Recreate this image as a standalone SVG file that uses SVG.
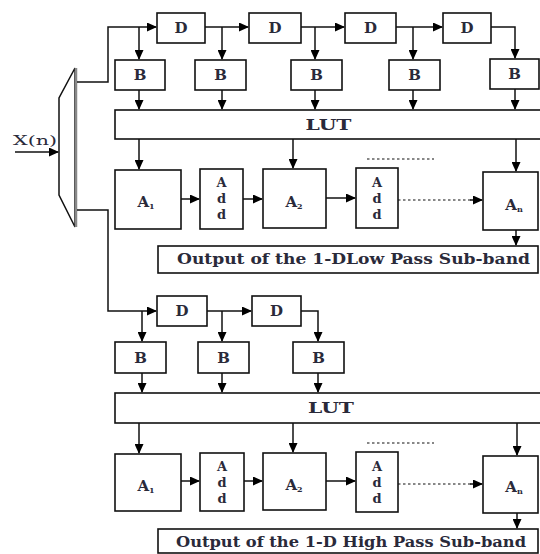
<svg xmlns="http://www.w3.org/2000/svg" width="540" height="554" viewBox="0 0 540 554">
<defs>
<marker id="ah" markerWidth="10" markerHeight="9" refX="9" refY="4.5" orient="auto" markerUnits="userSpaceOnUse">
<path d="M0,0 L10,4.5 L0,9 Z" fill="#000"/>
</marker>
<style>
.box{fill:#fff;stroke:#111;stroke-width:1.6}
.ln{fill:none;stroke:#111;stroke-width:1.5}
.dot{fill:none;stroke:#111;stroke-width:1.2;stroke-dasharray:2.5 2.5}
.t{font-family:"DejaVu Serif","Liberation Serif",serif;fill:#2a2a3a;font-weight:bold;text-anchor:middle}
.s14{font-size:15px}
.s13{font-size:13px}
.add{font-size:13px}
.sub{font-size:8px}
.out{font-family:"DejaVu Serif","Liberation Serif",serif;fill:#2a2a3a;font-size:14px;font-weight:bold}
</style>
</defs>
<rect width="540" height="554" fill="#fff"/>

<g id="splitter">
<polygon points="75,68 59,98 59,195 75,227" fill="#fff" stroke="#111" stroke-width="1.5"/>
<line x1="76" y1="68" x2="76" y2="227" stroke="#888" stroke-width="2.5"/>
</g>
<g id="xn"><text class="t s13" x="35" y="145" textLength="44" lengthAdjust="spacingAndGlyphs" style="font-weight:normal">X(n)</text></g>

<g id="connectors">
<line class="ln" x1="15" y1="152" x2="58" y2="152" marker-end="url(#ah)"/>
<!-- top branch -->
<polyline class="ln" points="77,82 108,82 108,27 156,27" marker-end="url(#ah)"/>
<line class="ln" x1="139" y1="27" x2="139" y2="59" marker-end="url(#ah)"/>
<line class="ln" x1="205" y1="27" x2="248" y2="27" marker-end="url(#ah)"/>
<line class="ln" x1="222" y1="27" x2="222" y2="59" marker-end="url(#ah)"/>
<line class="ln" x1="301" y1="27" x2="344" y2="27" marker-end="url(#ah)"/>
<line class="ln" x1="315" y1="27" x2="315" y2="59" marker-end="url(#ah)"/>
<line class="ln" x1="396" y1="27" x2="442" y2="27" marker-end="url(#ah)"/>
<line class="ln" x1="413" y1="27" x2="413" y2="59" marker-end="url(#ah)"/>
<polyline class="ln" points="491,27 515,27 515,58" marker-end="url(#ah)"/>
<line class="ln" x1="139" y1="90" x2="139" y2="109" marker-end="url(#ah)"/>
<line class="ln" x1="222" y1="90" x2="222" y2="109" marker-end="url(#ah)"/>
<line class="ln" x1="315" y1="90" x2="315" y2="109" marker-end="url(#ah)"/>
<line class="ln" x1="413" y1="90" x2="413" y2="109" marker-end="url(#ah)"/>
<line class="ln" x1="515" y1="89" x2="515" y2="109" marker-end="url(#ah)"/>
<line class="ln" x1="139" y1="139" x2="139" y2="169" marker-end="url(#ah)"/>
<line class="ln" x1="293" y1="139" x2="293" y2="168" marker-end="url(#ah)"/>
<line class="ln" x1="516" y1="139" x2="516" y2="171" marker-end="url(#ah)"/>
<line class="ln" x1="181" y1="199" x2="199" y2="199" marker-end="url(#ah)"/>
<line class="ln" x1="243" y1="199" x2="262" y2="199" marker-end="url(#ah)"/>
<line class="ln" x1="326" y1="198" x2="355" y2="198" marker-end="url(#ah)"/>
<line class="dot" x1="398" y1="200" x2="474" y2="200"/>
<line class="ln" x1="470" y1="200" x2="482" y2="200" marker-end="url(#ah)"/>
<line class="dot" x1="367" y1="159" x2="434" y2="159"/>
<line class="ln" x1="516" y1="230" x2="516" y2="245" marker-end="url(#ah)"/>
<!-- bottom branch -->
<polyline class="ln" points="77,210 108,210 108,311 156,311" marker-end="url(#ah)"/>
<line class="ln" x1="142" y1="311" x2="142" y2="341" marker-end="url(#ah)"/>
<line class="ln" x1="207" y1="311" x2="251" y2="311" marker-end="url(#ah)"/>
<line class="ln" x1="222" y1="311" x2="222" y2="341" marker-end="url(#ah)"/>
<polyline class="ln" points="301,311 318,311 318,341" marker-end="url(#ah)"/>
<line class="ln" x1="142" y1="373" x2="142" y2="392" marker-end="url(#ah)"/>
<line class="ln" x1="222" y1="373" x2="222" y2="392" marker-end="url(#ah)"/>
<line class="ln" x1="318" y1="373" x2="318" y2="392" marker-end="url(#ah)"/>
<line class="ln" x1="139" y1="423" x2="139" y2="453" marker-end="url(#ah)"/>
<line class="ln" x1="293" y1="423" x2="293" y2="452" marker-end="url(#ah)"/>
<line class="ln" x1="517" y1="423" x2="517" y2="455" marker-end="url(#ah)"/>
<line class="ln" x1="181" y1="481" x2="199" y2="481" marker-end="url(#ah)"/>
<line class="ln" x1="244" y1="481" x2="262" y2="481" marker-end="url(#ah)"/>
<line class="ln" x1="326" y1="481" x2="355" y2="481" marker-end="url(#ah)"/>
<line class="dot" x1="398" y1="484" x2="474" y2="484"/>
<line class="ln" x1="470" y1="484" x2="482" y2="484" marker-end="url(#ah)"/>
<line class="dot" x1="367" y1="443" x2="434" y2="443"/>
<line class="ln" x1="517" y1="513" x2="517" y2="528" marker-end="url(#ah)"/>
</g>

<!-- top section nodes -->
<g id="tD1"><rect class="box" x="157" y="13" width="48" height="30"/><text class="t s14" x="181" y="33">D</text></g>
<g id="tD2"><rect class="box" x="249" y="13" width="52" height="30"/><text class="t s14" x="275" y="33">D</text></g>
<g id="tD3"><rect class="box" x="345" y="13" width="51" height="30"/><text class="t s14" x="370.5" y="33">D</text></g>
<g id="tD4"><rect class="box" x="443" y="13" width="48" height="30"/><text class="t s14" x="467" y="33">D</text></g>
<g id="tB1"><rect class="box" x="115" y="60" width="50" height="30"/><text class="t s14" x="140" y="80">B</text></g>
<g id="tB2"><rect class="box" x="195" y="60" width="51" height="30"/><text class="t s14" x="220.5" y="80">B</text></g>
<g id="tB3"><rect class="box" x="291" y="60" width="51" height="30"/><text class="t s14" x="316.5" y="80">B</text></g>
<g id="tB4"><rect class="box" x="389" y="60" width="51" height="30"/><text class="t s14" x="414.5" y="80">B</text></g>
<g id="tB5"><rect class="box" x="490" y="59" width="49" height="30"/><text class="t s14" x="514.5" y="79">B</text></g>
<g id="tLUT"><rect class="box" x="115" y="110" width="440" height="29"/><text class="t s14" x="328.5" y="130" textLength="46" lengthAdjust="spacingAndGlyphs">LUT</text></g>
<g id="tA1"><rect class="box" x="115" y="170" width="66" height="59"/><text class="t s14" x="146" y="207">A<tspan class="sub" dy="2">1</tspan></text></g>
<g id="tAdd1"><rect class="box" x="200" y="169" width="43" height="60"/><text class="t add" x="221.5" y="187">A</text><text class="t add" x="221.5" y="203">d</text><text class="t add" x="221.5" y="219">d</text></g>
<g id="tA2"><rect class="box" x="263" y="169" width="63" height="59"/><text class="t s14" x="294" y="207">A<tspan class="sub" dy="2">2</tspan></text></g>
<g id="tAdd2"><rect class="box" x="356" y="168" width="42" height="60"/><text class="t add" x="377" y="187">A</text><text class="t add" x="377" y="203">d</text><text class="t add" x="377" y="219">d</text></g>
<g id="tAn"><rect class="box" x="483" y="172" width="55" height="58"/><text class="t s14" x="514" y="210">A<tspan class="sub" dy="2">n</tspan></text></g>
<g id="tOut"><rect class="box" x="158" y="246" width="380" height="27"/><text class="out" x="177" y="264" textLength="353" lengthAdjust="spacingAndGlyphs">Output of the 1-DLow Pass Sub-band</text></g>

<!-- bottom section nodes -->
<g id="bD1"><rect class="box" x="157" y="296" width="50" height="30"/><text class="t s14" x="182" y="316">D</text></g>
<g id="bD2"><rect class="box" x="252" y="296" width="49" height="30"/><text class="t s14" x="276.5" y="316">D</text></g>
<g id="bB1"><rect class="box" x="115" y="342" width="51" height="31"/><text class="t s14" x="140.5" y="363">B</text></g>
<g id="bB2"><rect class="box" x="198" y="342" width="51" height="31"/><text class="t s14" x="223.5" y="363">B</text></g>
<g id="bB3"><rect class="box" x="293" y="342" width="51" height="31"/><text class="t s14" x="318.5" y="363">B</text></g>
<g id="bLUT"><rect class="box" x="115" y="393" width="440" height="30"/><text class="t s14" x="331" y="413" textLength="46" lengthAdjust="spacingAndGlyphs">LUT</text></g>
<g id="bA1"><rect class="box" x="115" y="454" width="66" height="57"/><text class="t s14" x="146" y="491">A<tspan class="sub" dy="2">1</tspan></text></g>
<g id="bAdd1"><rect class="box" x="200" y="453" width="44" height="58"/><text class="t add" x="222" y="471">A</text><text class="t add" x="222" y="487">d</text><text class="t add" x="222" y="503">d</text></g>
<g id="bA2"><rect class="box" x="263" y="453" width="63" height="57"/><text class="t s14" x="294" y="490">A<tspan class="sub" dy="2">2</tspan></text></g>
<g id="bAdd2"><rect class="box" x="356" y="452" width="42" height="60"/><text class="t add" x="377" y="471">A</text><text class="t add" x="377" y="487">d</text><text class="t add" x="377" y="503">d</text></g>
<g id="bAn"><rect class="box" x="483" y="456" width="55" height="57"/><text class="t s14" x="514" y="492">A<tspan class="sub" dy="2">n</tspan></text></g>
<g id="bOut"><rect class="box" x="158" y="529" width="380" height="24"/><text class="out" x="176" y="547" textLength="350" lengthAdjust="spacingAndGlyphs">Output of the 1-D High Pass Sub-band</text></g>
</svg>
